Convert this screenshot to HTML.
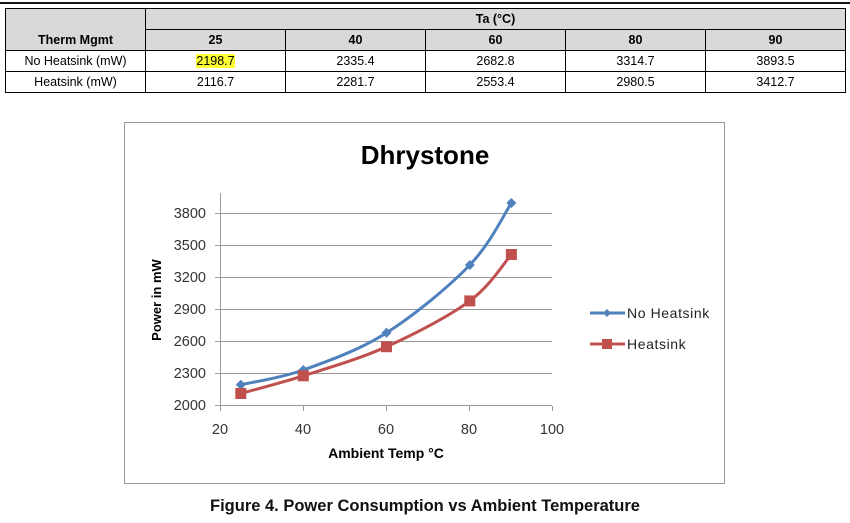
<!DOCTYPE html>
<html><head><style>
body{margin:0;width:850px;height:523px;background:#fff;font-family:"Liberation Sans",Arial,sans-serif;position:relative;overflow:hidden}
.top{position:absolute;left:0;top:2px;width:850px;height:2px;background:#111}
table{position:absolute;left:5px;top:8px;border-collapse:collapse;font-size:12.5px}
td{border:1px solid #000;text-align:center;padding:0;height:20px;line-height:14px}
.h{background:#d9d9d9;font-weight:bold}
svg{position:absolute;left:0;top:0}
</style></head><body>
<div class="top"></div>
<table>
<colgroup><col style="width:140px"><col style="width:140px"><col style="width:140px"><col style="width:140px"><col style="width:140px"><col style="width:140px"></colgroup>
<tr><td class="h" rowspan="2" style="vertical-align:bottom;padding-bottom:3px">Therm Mgmt</td><td class="h" colspan="5">Ta (°C)</td></tr>
<tr><td class="h">25</td><td class="h">40</td><td class="h">60</td><td class="h">80</td><td class="h">90</td></tr>
<tr><td>No Heatsink (mW)</td><td><span style="background:#ffff33">2198.7</span></td><td>2335.4</td><td>2682.8</td><td>3314.7</td><td>3893.5</td></tr>
<tr><td>Heatsink (mW)</td><td>2116.7</td><td>2281.7</td><td>2553.4</td><td>2980.5</td><td>3412.7</td></tr>
</table>
<svg width="850" height="523" font-family="'Liberation Sans',Arial,sans-serif">
<rect x="124.5" y="122.5" width="600" height="361" fill="#fff" stroke="#999"/>
<g stroke="#999" stroke-width="1">
<line x1="215" y1="213.5" x2="552" y2="213.5"/>
<line x1="215" y1="245.5" x2="552" y2="245.5"/>
<line x1="215" y1="277.5" x2="552" y2="277.5"/>
<line x1="215" y1="309.5" x2="552" y2="309.5"/>
<line x1="215" y1="341.5" x2="552" y2="341.5"/>
<line x1="215" y1="373.5" x2="552" y2="373.5"/>
<line x1="215" y1="405.5" x2="552" y2="405.5"/>
<line x1="220.5" y1="193" x2="220.5" y2="406"/>
<line x1="220.5" y1="406" x2="220.5" y2="411"/>
<line x1="303.5" y1="406" x2="303.5" y2="411"/>
<line x1="386.5" y1="406" x2="386.5" y2="411"/>
<line x1="469.5" y1="406" x2="469.5" y2="411"/>
<line x1="552.5" y1="406" x2="552.5" y2="411"/>
</g>
<g font-size="14.5" fill="#333" text-anchor="end">
<text x="206" y="218">3800</text><text x="206" y="250">3500</text><text x="206" y="282">3200</text>
<text x="206" y="314">2900</text><text x="206" y="346">2600</text><text x="206" y="378">2300</text><text x="206" y="410">2000</text>
</g>
<g font-size="14.5" fill="#333" text-anchor="middle">
<text x="220" y="434">20</text><text x="303" y="434">40</text><text x="386" y="434">60</text><text x="469" y="434">80</text><text x="552" y="434">100</text>
</g>
<text x="425" y="164" font-size="26" font-weight="bold" text-anchor="middle" fill="#000">Dhrystone</text>
<text x="386" y="458" font-size="14" font-weight="bold" text-anchor="middle" fill="#000">Ambient Temp °C</text>
<text transform="translate(161,300) rotate(-90)" font-size="13" font-weight="bold" text-anchor="middle" fill="#000">Power in mW</text>
<path d="M240.8,384.7 C251.2,382.3 279,378.6 303.3,370 C327.6,361.3 358.8,350.3 386.5,332.8 C414.2,315.3 449,286.6 469.8,265 C490.6,243.4 504.5,213.3 511.4,203" fill="none" stroke="#4f81bd" stroke-width="3"/>
<path d="M240.8,393.5 C251.2,390.5 279,383.6 303.3,375.8 C327.6,368 358.8,359.2 386.5,346.7 C414.2,334.2 449,316.3 469.8,300.9 C490.6,285.5 504.5,262.2 511.4,254.5" fill="none" stroke="#c0504d" stroke-width="3"/>
<g fill="#4f81bd">
<path d="M240.8,379.7 l5,5 -5,5 -5,-5z"/><path d="M303.3,365 l5,5 -5,5 -5,-5z"/><path d="M386.5,327.8 l5,5 -5,5 -5,-5z"/><path d="M469.8,260 l5,5 -5,5 -5,-5z"/><path d="M511.4,198 l5,5 -5,5 -5,-5z"/>
<path d="M607,309 l4,4 -4,4 -4,-4z"/>
</g>
<g fill="#c0504d">
<rect x="235.3" y="388" width="11" height="11"/><rect x="297.8" y="370.3" width="11" height="11"/><rect x="381" y="341.2" width="11" height="11"/><rect x="464.3" y="295.4" width="11" height="11"/><rect x="505.9" y="249" width="11" height="11"/>
<rect x="602" y="339" width="10" height="10"/>
</g>
<line x1="590" y1="313" x2="625" y2="313" stroke="#4f81bd" stroke-width="3"/>
<line x1="590" y1="344" x2="625" y2="344" stroke="#c0504d" stroke-width="3"/>
<text x="627" y="318" font-size="14" fill="#222" letter-spacing="0.6">No Heatsink</text>
<text x="627" y="349" font-size="14" fill="#222" letter-spacing="0.6">Heatsink</text>
<text x="425" y="511" font-size="16.5" font-weight="bold" text-anchor="middle" fill="#111">Figure 4. Power Consumption vs Ambient Temperature</text>
</svg>
</body></html>
